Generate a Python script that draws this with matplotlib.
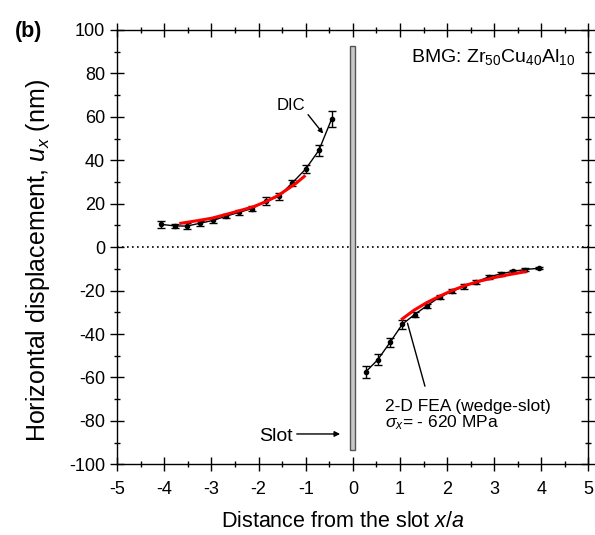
import matplotlib
matplotlib.use("Agg")
import matplotlib.pyplot as plt
from matplotlib.patches import Rectangle
from matplotlib.ticker import MultipleLocator

plt.rcParams["font.family"] = ["Liberation Sans", "DejaVu Sans"]
plt.rcParams["mathtext.fontset"] = "custom"
plt.rcParams["mathtext.it"] = "Liberation Sans:italic"
plt.rcParams["mathtext.rm"] = "Liberation Sans"
plt.rcParams["axes.unicode_minus"] = False

# DIC measurements, left of the slot
x_left = [-4.07, -3.78, -3.52, -3.25, -2.97, -2.70, -2.42, -2.14, -1.85, -1.57, -1.29, -1.00, -0.72, -0.45]
u_left = [10.5, 9.8, 9.7, 11.0, 12.3, 14.2, 16.0, 17.8, 21.2, 23.4, 29.5, 36.0, 44.6, 59.0]
err_left = [1.5, 1.0, 1.5, 1.2, 1.0, 1.0, 1.0, 1.0, 2.0, 1.5, 1.5, 2.0, 2.5, 3.5]

# DIC measurements, right of the slot
x_right = [0.27, 0.53, 0.79, 1.05, 1.31, 1.57, 1.84, 2.10, 2.36, 2.62, 2.88, 3.14, 3.40, 3.66, 3.94]
u_right = [-57.5, -51.8, -43.8, -35.5, -31.0, -27.0, -23.0, -20.3, -18.1, -16.0, -13.7, -12.3, -11.1, -10.3, -9.7]
err_right = [2.8, 2.5, 2.0, 2.0, 1.2, 1.0, 1.0, 1.0, 1.0, 1.0, 1.0, 0.8, 0.8, 0.8, 0.5]

# 2-D FEA (wedge-slot) prediction
fea_x_left = [-3.65, -3.3, -3.0, -2.7, -2.4, -2.1, -1.84, -1.6, -1.4, -1.2, -1.03]
fea_u_left = [11.0, 12.2, 13.3, 15.0, 16.8, 18.7, 21.0, 23.6, 26.5, 29.5, 32.6]
fea_x_right = [1.05, 1.3, 1.57, 1.85, 2.1, 2.4, 2.7, 3.0, 3.3, 3.66]
fea_u_right = [-33.0, -29.0, -25.5, -22.5, -20.0, -17.5, -15.6, -14.0, -12.7, -11.3]

fig = plt.figure(figsize=(5.95, 5.35), dpi=100)
ax = fig.add_axes([0.197, 0.132, 0.792, 0.812])

ax.axhline(0, color="black", linestyle=(0, (1, 2)), linewidth=1.2, zorder=1)

# slot
ax.add_patch(Rectangle((-0.055, -93.5), 0.11, 186, facecolor="#c8c8c8",
                       edgecolor="#555555", linewidth=1.0, zorder=2))

for xs, us, es in [(x_left, u_left, err_left), (x_right, u_right, err_right)]:
    ax.errorbar(xs, us, yerr=es, color="black", marker="o", markersize=3,
                linewidth=1.0, elinewidth=1.0, capsize=3, capthick=1.0, zorder=3)

ax.plot(fea_x_left, fea_u_left, color="red", linewidth=2.2, zorder=4)
ax.plot(fea_x_right, fea_u_right, color="red", linewidth=2.2, zorder=4)

ax.set_xlim(-5, 5)
ax.set_ylim(-100, 100)
ax.xaxis.set_major_locator(MultipleLocator(1))
ax.xaxis.set_minor_locator(MultipleLocator(0.5))
ax.yaxis.set_major_locator(MultipleLocator(20))
ax.yaxis.set_minor_locator(MultipleLocator(10))
ax.tick_params(which="both", direction="inout", top=True, right=True,
               labeltop=False, labelright=False, width=1.0, labelsize=13)
ax.tick_params(which="major", length=9.5)
ax.tick_params(which="minor", length=4.5)
ax.tick_params(axis="x", pad=7)
ax.tick_params(axis="y", pad=4)
for sp in ax.spines.values():
    sp.set_linewidth(1.0)

ax.set_xlabel("Distance from the slot $x/a$", fontsize=15.5, va="baseline")
ax.xaxis.set_label_coords(0.479, -0.143)
ax.set_ylabel("Horizontal displacement, $u_x$ (nm)", fontsize=18, va="center")
ax.yaxis.set_label_coords(-0.169, 0.47)

ax.text(4.72, 85.4, "BMG: Zr$_{50}$Cu$_{40}$Al$_{10}$", ha="right", va="baseline", fontsize=14)
fig.text(0.025, 0.931, "(b)", fontsize=15.5, fontweight="bold", va="baseline")

ax.text(-1.31, 63.1, "DIC", ha="center", va="baseline", fontsize=12)
ax.annotate("", xy=(-0.63, 52.3), xytext=(-0.95, 61),
            arrowprops=dict(arrowstyle="-|>", color="black", lw=1.0,
                            mutation_scale=7, shrinkA=0, shrinkB=0))

ax.text(0.68, -75.4, "2-D FEA (wedge-slot)", ha="left", va="baseline", fontsize=12.5)
ax.text(0.68, -83.0, "$\\sigma_x$= - 620 MPa", ha="left", va="baseline", fontsize=12.5)
ax.annotate("", xy=(1.16, -35), xytext=(1.53, -64),
            arrowprops=dict(arrowstyle="-", color="black", lw=1.0,
                            shrinkA=0, shrinkB=0))

ax.text(-1.28, -89.2, "Slot", ha="right", va="baseline", fontsize=14)
ax.annotate("", xy=(-0.27, -86), xytext=(-1.19, -86),
            arrowprops=dict(arrowstyle="-|>", color="black", lw=1.0,
                            mutation_scale=8, shrinkA=0, shrinkB=0))

fig.savefig("out.png", dpi=100)
